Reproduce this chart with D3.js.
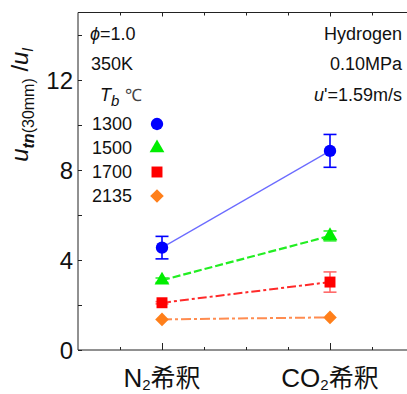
<!DOCTYPE html>
<html><head><meta charset="utf-8">
<script src="https://cdn.jsdelivr.net/npm/d3@7/dist/d3.min.js"></script>
<style>body{margin:0;background:#fff}svg{display:block}text{font-family:"Liberation Sans",Arial,sans-serif}</style>
</head><body>
<svg id="c" width="407" height="394"></svg>
<script>
const categories = ["N₂希釈", "CO₂希釈"];
const temps = ["1300", "1500", "1700", "2135"];
const values1300 = [4.55, 8.85];
const err1300 = [0.5, 0.73];
const values1500 = [3.1, 5.07];
const err1500 = [0.1, 0.22];
const values1700 = [2.1, 3.02];
const err1700 = [0.05, 0.45];
const values2135 = [1.36, 1.45];
const err2135 = [0.0, 0.0];
const yTicks = [0, 4, 8, 12];
const yMinor = [2, 6, 10, 14];

const series = [
  {t: temps[0], v: values1300, e: err1300, color: "#0000ff", line: "#6b6bff", shape: "circle", dash: null, lw: 1.2, ec: "#0000ff"},
  {t: temps[1], v: values1500, e: err1500, color: "#00ee00", line: "#22ee22", shape: "triangle", dash: "8,3", lw: 2.2, ec: "#33ee33"},
  {t: temps[2], v: values1700, e: err1700, color: "#ff0000", line: "#ff2a2a", shape: "square", dash: "9,3,3,3", lw: 2, ec: "#ff6b6b"},
  {t: temps[3], v: values2135, e: err2135, color: "#ff7f1a", line: "#ff8c50", shape: "diamond", dash: "10,3,3,3", lw: 2, ec: "#ff8c50"}
];

const svg = d3.select("#c");
const x = d3.scaleLinear().domain([0, 4]).range([78, 414]);
const y = d3.scaleLinear().domain([0, 15]).range([350, 12.5]);
const catX = [1, 3];

// spines
const g = svg.append("g");
g.append("line").attr("x1", 78).attr("x2", 78).attr("y1", y(0)).attr("y2", y(15)).attr("stroke", "#222").attr("stroke-width", 1);
g.append("line").attr("x1", 78).attr("x2", 407).attr("y1", y(0)).attr("y2", y(0)).attr("stroke", "#222").attr("stroke-width", 1);
g.append("line").attr("x1", 78).attr("x2", 407).attr("y1", y(15)).attr("y2", y(15)).attr("stroke", "#222").attr("stroke-width", 1);

// y axis (ticks inward)
const yAxis = d3.axisRight(y).tickValues(yTicks.concat(yMinor)).tickSize(4).tickFormat("");
const ya = svg.append("g").attr("transform", "translate(78,0)").call(yAxis);
ya.select(".domain").remove();
ya.selectAll("line").attr("stroke", "#222");
svg.append("g").selectAll("text").data(yTicks).join("text")
  .attr("x", 73).attr("y", d => y(d)).attr("dy", "0.36em").attr("text-anchor", "end")
  .attr("font-size", 24).attr("fill", "#111").text(d => d);

// x axis ticks (bottom, inward)
const minorX = d3.range(0.5, 4, 0.5).filter(d => !catX.includes(d));
const xb = svg.append("g").attr("transform", `translate(0,${y(0)})`)
  .call(d3.axisTop(x).tickValues(minorX).tickSize(3).tickFormat(""));
xb.select(".domain").remove();
xb.selectAll("line").attr("stroke", "#222");
const xb2 = svg.append("g").attr("transform", `translate(0,${y(0)})`)
  .call(d3.axisTop(x).tickValues(catX).tickSize(7).tickFormat(""));
xb2.select(".domain").remove();
xb2.selectAll("line").attr("stroke", "#222");
// top ticks
const xt = svg.append("g").attr("transform", `translate(0,${y(15)})`)
  .call(d3.axisBottom(x).tickValues(minorX).tickSize(3).tickFormat(""));
xt.select(".domain").remove();
xt.selectAll("line").attr("stroke", "#222");
const xt2 = svg.append("g").attr("transform", `translate(0,${y(15)})`)
  .call(d3.axisBottom(x).tickValues(catX).tickSize(4).tickFormat(""));
xt2.select(".domain").remove();
xt2.selectAll("line").attr("stroke", "#222");

// category labels
categories.forEach((c, i) => {
  const parts = c.split("₂");
  const t = svg.append("text").attr("x", x(catX[i])).attr("y", 387).attr("text-anchor", "middle")
    .attr("font-size", 26).attr("fill", "#111");
  t.append("tspan").text(parts[0]);
  t.append("tspan").attr("font-size", 15).attr("dy", 3).text("2");
  t.append("tspan").attr("dy", -3).attr("font-family", "'Noto Sans CJK JP',sans-serif").attr("font-size", 25).text(parts[1]);
});

// y label
const yl = svg.append("text").attr("transform", "translate(28,105) rotate(-90)")
  .attr("text-anchor", "middle").attr("font-size", 24).attr("fill", "#111");
yl.append("tspan").attr("font-style", "italic").text("u");
yl.append("tspan").attr("font-style", "italic").attr("font-weight", "bold").attr("font-size", 16).attr("dy", 6).text("tn");
yl.append("tspan").attr("font-size", 16).text("(30mm)");
yl.append("tspan").attr("dy", -6).text(" /");
yl.append("tspan").attr("font-style", "italic").text("u");
yl.append("tspan").attr("font-style", "italic").attr("font-size", 15).attr("dy", 5).text("l");

function sym(shape) {
  const m = {circle: d3.symbolCircle, triangle: d3.symbolTriangle, square: d3.symbolSquare, diamond: d3.symbolSquare};
  const s = {circle: 120, triangle: 95, square: 120, diamond: 92};
  return d3.symbol(m[shape], s[shape])();
}
const rot = shape => shape === "diamond" ? " rotate(45)" : "";

// lines
const line = d3.line().x((d, i) => x(catX[i])).y(d => y(d));
series.forEach(s => {
  svg.append("path").attr("d", line(s.v)).attr("fill", "none").attr("stroke", s.line)
    .attr("stroke-width", s.lw).attr("stroke-dasharray", s.dash);
});
// error bars
series.forEach(s => {
  s.v.forEach((v, i) => {
    if (!s.e[i]) return;
    const cx = x(catX[i]);
    const eg = svg.append("g").attr("stroke", s.ec).attr("stroke-width", 1.6);
    eg.append("line").attr("x1", cx).attr("x2", cx).attr("y1", y(v - s.e[i])).attr("y2", y(v + s.e[i]));
    eg.append("line").attr("x1", cx - 6.5).attr("x2", cx + 6.5).attr("y1", y(v - s.e[i])).attr("y2", y(v - s.e[i]));
    eg.append("line").attr("x1", cx - 6.5).attr("x2", cx + 6.5).attr("y1", y(v + s.e[i])).attr("y2", y(v + s.e[i]));
  });
});
// markers
series.forEach(s => {
  s.v.forEach((v, i) => {
    svg.append("path").attr("d", sym(s.shape)).attr("fill", s.color)
      .attr("transform", `translate(${x(catX[i])},${y(v)})${rot(s.shape)}`);
  });
});

// annotations left
svg.append("text").attr("x", 90).attr("y", 40).attr("font-size", 18).attr("fill", "#111")
  .call(t => { t.append("tspan").attr("font-style", "italic").text("ϕ"); t.append("tspan").text("=1.0"); });
svg.append("text").attr("x", 91).attr("y", 70).attr("font-size", 18).attr("fill", "#111").text("350K");
svg.append("text").attr("x", 100).attr("y", 101).attr("font-size", 18).attr("fill", "#111")
  .call(t => {
    t.append("tspan").attr("font-style", "italic").text("T");
    t.append("tspan").attr("font-style", "italic").attr("font-size", 15).attr("dy", 5).text("b");
    t.append("tspan").attr("dy", -5).attr("font-size", 17).attr("fill", "#444").attr("dx", 6).text("℃");
  });
// legend
const legY = [124, 148, 172, 196];
series.forEach((s, i) => {
  svg.append("text").attr("x", 92).attr("y", legY[i]).attr("dy", "0.36em").attr("font-size", 18).attr("fill", "#111").text(s.t);
  svg.append("path").attr("d", sym(s.shape)).attr("fill", s.color)
    .attr("transform", `translate(157,${legY[i]})${rot(s.shape)}`);
});

// annotations right
svg.append("text").attr("x", 402).attr("y", 40).attr("text-anchor", "end").attr("font-size", 18).attr("fill", "#111").text("Hydrogen");
svg.append("text").attr("x", 402).attr("y", 70).attr("text-anchor", "end").attr("font-size", 18).attr("fill", "#111").text("0.10MPa");
svg.append("text").attr("x", 402).attr("y", 101).attr("text-anchor", "end").attr("font-size", 18).attr("fill", "#111")
  .call(t => { t.append("tspan").attr("font-style", "italic").text("u"); t.append("tspan").text("'=1.59m/s"); });
</script>
</body></html>
